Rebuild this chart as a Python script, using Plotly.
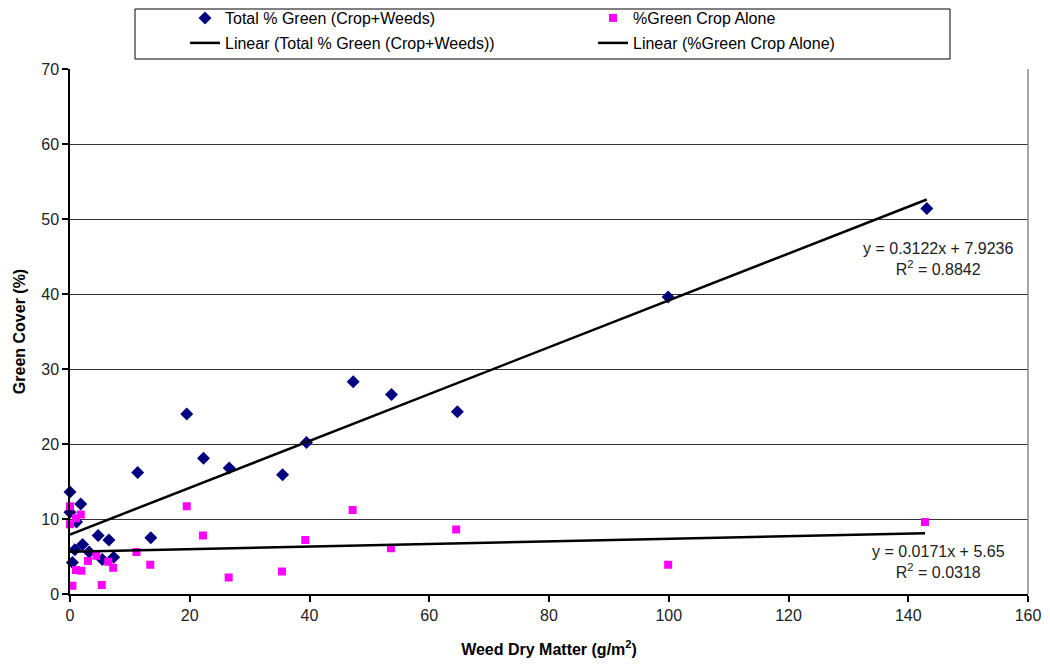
import plotly.graph_objects as go

# ---- data ----
total_x = [0, 0, 1.8, 1.1, 4.7, 6.5, 2.1, 0.8, 3.2, 0.4, 5.4, 7.3,
           19.5, 11.3, 22.3, 26.6, 35.5, 39.5, 13.5, 47.3, 53.7, 64.7, 99.9, 143.1]
total_y = [13.6, 10.9, 12.0, 9.6, 7.8, 7.2, 6.6, 5.9, 5.6, 4.2, 4.6, 4.9,
           24.0, 16.2, 18.1, 16.8, 15.9, 20.2, 7.5, 28.3, 26.6, 24.3, 39.6, 51.4]

crop_x = [0, 0, 1.0, 1.8, 1.0, 1.9, 3.0, 4.4, 6.4, 7.2, 0.4, 5.3,
          11.1, 13.4, 19.5, 22.2, 26.5, 35.4, 39.3, 47.2, 53.6, 64.5, 99.9, 142.8]
crop_y = [11.7, 9.3, 10.1, 10.6, 3.2, 3.1, 4.4, 5.1, 4.3, 3.5, 1.1, 1.2,
          5.6, 3.9, 11.7, 7.8, 2.2, 3.0, 7.2, 11.2, 6.1, 8.6, 3.9, 9.6]

# trendline coefficients as printed on the chart
total_slope, total_intercept, total_r2 = 0.3122, 7.9236, 0.8842
crop_slope, crop_intercept, crop_r2 = 0.0171, 5.65, 0.0318

x_ticks = [0, 20, 40, 60, 80, 100, 120, 140, 160]
y_ticks = [0, 10, 20, 30, 40, 50, 60, 70]

FONT = "Arial, Liberation Sans, sans-serif"

def trend(xs, m, b):
    xr = [0, max(xs)]
    return xr, [m * v + b for v in xr]

fig = go.Figure()

fig.add_trace(go.Scatter(
    x=total_x, y=total_y, mode="markers", name="Total % Green (Crop+Weeds)",
    marker=dict(symbol="diamond", color="#000080", size=10), cliponaxis=False,
    legend="legend"))
fig.add_trace(go.Scatter(
    x=crop_x, y=crop_y, mode="markers", name="%Green Crop Alone",
    marker=dict(symbol="square", color="#FF00FF", size=8), cliponaxis=False,
    legend="legend"))

tx, ty = trend(total_x, total_slope, total_intercept)
fig.add_trace(go.Scatter(
    x=tx, y=ty, mode="lines", name="Linear (Total % Green (Crop+Weeds))",
    line=dict(color="black", width=2.5), cliponaxis=False, legend="legend2"))
cx, cy = trend(crop_x, crop_slope, crop_intercept)
fig.add_trace(go.Scatter(
    x=cx, y=cy, mode="lines", name="Linear (%Green Crop Alone)",
    line=dict(color="black", width=2.5), cliponaxis=False, legend="legend2"))

# equation labels
fig.add_annotation(
    x=145, y=44.7, xref="x", yref="y", showarrow=False,
    text=f"y = {total_slope}x + {total_intercept}<br>R<sup>2</sup> = {total_r2}",
    font=dict(family=FONT, size=16, color="#222"), align="center")
fig.add_annotation(
    x=145, y=4.3, xref="x", yref="y", showarrow=False,
    text=f"y = {crop_slope}x + {crop_intercept}<br>R<sup>2</sup> = {crop_r2}",
    font=dict(family=FONT, size=16, color="#222"), align="center")

# The page body has an 8px margin, so the figure is laid out in
# screen pixels shifted by OFF.
OFF = 8
W, H = 1050 - OFF, 666 - 2 * OFF
PL, PR, PT, PB = 70, 1028, 69, 594          # plot area in screen pixels
L, T = PL - OFF, PT - OFF
R, B = W - (PR - OFF), H - (PB - OFF)
pw, ph = W - L - R, H - T - B

def px2paper(px, py):
    return (px - OFF - L) / pw, (H - B - (py - OFF)) / ph

# legend frame
x0, y0 = px2paper(135, 59)
x1, y1 = px2paper(950, 9)
fig.add_shape(type="rect", xref="paper", yref="paper", x0=x0, y0=y0, x1=x1, y1=y1,
              line=dict(color="black", width=1), fillcolor="rgba(0,0,0,0)", layer="above")
# right border of plot area
fig.add_shape(type="line", xref="paper", yref="paper", x0=1, x1=1, y0=0, y1=1,
              line=dict(color="#8a8a8a", width=1.5))

l1x, l1y = px2paper(185, 1)
l2x, l2y = px2paper(185, 26)
legend_common = dict(
    orientation="h", xanchor="left", yanchor="top",
    entrywidth=363, entrywidthmode="pixels",
    font=dict(family=FONT, size=16, color="black"),
    bgcolor="rgba(0,0,0,0)", borderwidth=0,
)

fig.update_layout(
    width=W, height=H,
    margin=dict(l=L, r=R, t=T, b=B, autoexpand=False),
    paper_bgcolor="white", plot_bgcolor="white",
    font=dict(family=FONT, size=16, color="black"),
    showlegend=True,
    legend=dict(x=l1x, y=l1y, **legend_common),
    legend2=dict(x=l2x, y=l2y, **legend_common),
    xaxis=dict(
        range=[0, 160], tickvals=x_ticks, ticktext=[str(v) for v in x_ticks],
        showgrid=False, zeroline=False, showline=True, linecolor="black", linewidth=1.5,
        ticks="outside", ticklen=6, tickcolor="black", tickwidth=1.5, automargin=False,
        tickfont=dict(family=FONT, size=16, color="#222"),
        title=dict(text="<b>Weed Dry Matter (g/m<sup>2</sup>)</b>",
                   font=dict(family=FONT, size=16, color="black"), standoff=26),
    ),
    yaxis=dict(
        range=[0, 70], tickvals=y_ticks, ticktext=[str(v) for v in y_ticks],
        showgrid=True, gridcolor="#333333", gridwidth=1.2, automargin=False,
        zeroline=False, showline=True, linecolor="black", linewidth=1.5,
        ticks="outside", ticklen=6, tickcolor="black", tickwidth=1.5,
        tickfont=dict(family=FONT, size=16, color="#222"),
        title=dict(text="<b>Green Cover (%)</b>",
                   font=dict(family=FONT, size=16, color="black"), standoff=12),
    ),
)

fig.write_html("out.html")
